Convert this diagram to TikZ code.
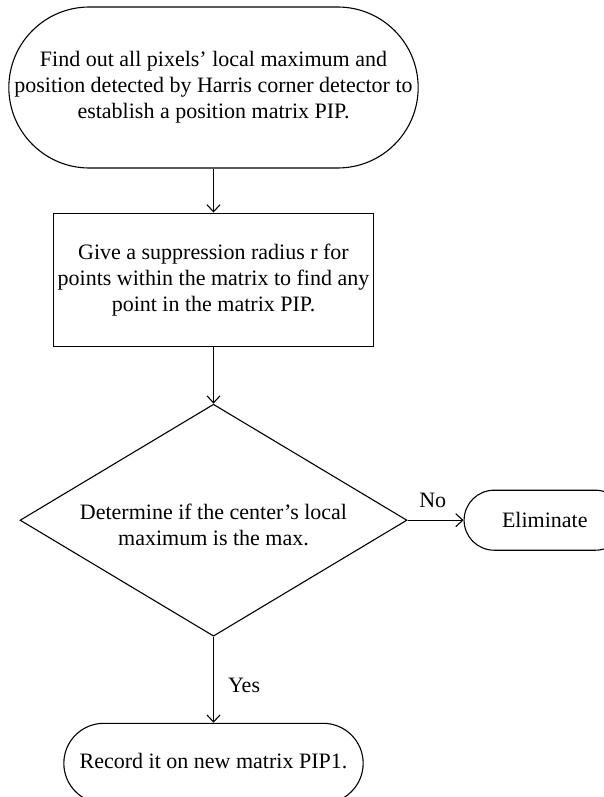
\documentclass[tikz,border=0pt]{standalone}
\usepackage{fontspec}
\setmainfont{Liberation Serif}
\usepackage{tikz}
\usetikzlibrary{arrows.meta,positioning,shapes.geometric,shapes.misc}

% text that may run into the round ends of a terminal
\newcommand{\flowtext}[1]{\makebox[0pt]{\begin{tabular}{@{}c@{}}#1\end{tabular}}}

\begin{document}
\begin{tikzpicture}[x=1pt, y=1pt, line width=1.1pt, >={Straight Barb[length=7pt,width=13pt]},
	every node/.style={font=\fontsize{22}{26}\selectfont, align=center},
	terminal/.style={draw, rounded rectangle},
	process/.style={draw, rectangle, minimum width=320pt, minimum height=133pt},
	decision/.style={draw, diamond, aspect=1.67, inner sep=0pt, minimum width=387pt, minimum height=232pt},
	lbl/.style={inner sep=0pt}]
		\useasboundingbox (0,0) rectangle (603,-797);
		\node (find) [terminal, minimum width=416pt, minimum height=161pt] at (213.5,-87.5) {\flowtext{Find out all pixels' local maximum and\\ position detected by Harris corner detector to\\ establish a position matrix PIP.}};
		\node (give) [process, below=44pt of find] {Give a suppression radius r for\\ points within the matrix to find any\\ point in the matrix PIP.};
		\node (decide) [decision, below=57pt of give] {\raisebox{-12pt}[0pt][0pt]{\flowtext{Determine if the center's local\\ maximum is the max.}}};
		
		\node (elim) [terminal, minimum width=168pt, minimum height=60pt, right=56pt of decide] {Eliminate};
		\node (record) [terminal, minimum width=306pt, minimum height=80pt, below=86pt of decide] {\flowtext{Record it on new matrix PIP1.}};
		
		% Arrows
		\draw[->] (find) -- (give);
		\draw[->] (give) -- (decide);
		\draw[->] (decide) -- node[lbl, above=12pt, pos=0.45] {No} (elim);
		\draw[->] (decide) -- node[lbl, right=14pt, pos=0.57] {Yes} (record);
	\end{tikzpicture}
\end{document}
